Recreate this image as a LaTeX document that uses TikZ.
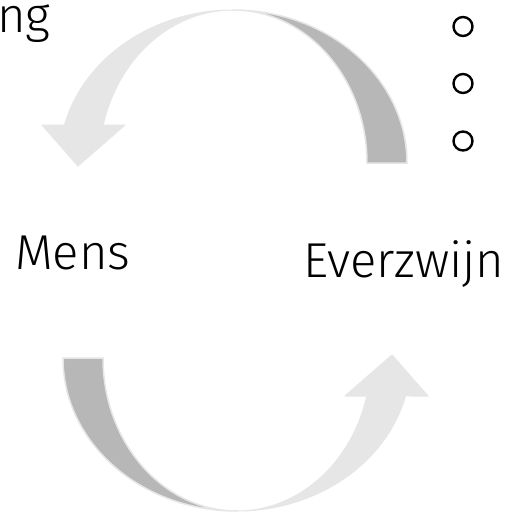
\documentclass[tikz,border=0pt]{standalone}
\usepackage{fontspec}
\setmainfont{Fira Sans Light}
\definecolor{lightg}{RGB}{230,230,230}
\definecolor{darkg}{RGB}{183,183,183}
\begin{document}
\begin{tikzpicture}[x=1pt,y=1pt,
  lightpart/.style={fill=lightg,draw=lightg,line width=1pt,line join=round},
  darkpart/.style={fill=darkg,draw=lightg,line width=1.5pt,line join=miter},
  lbl/.style={inner sep=0pt,anchor=base west,font=\fontsize{49}{55}\selectfont},
  bulletc/.style={circle,draw=black,line width=2.4pt,minimum size=19pt,inner sep=0pt}]
\useasboundingbox (0,0) rectangle (510,-514);
\fill[white] (0,0) rectangle (510,-514);
% top cycle arrow
\begin{scope}
\filldraw[lightpart] (233,-10)
  arc[start angle=90,end angle=165.62,x radius=174pt,y radius=153pt]
  -- (42,-125) -- (78,-166) -- (125,-125) -- (103.2,-125)
  arc[start angle=165.62,end angle=90,x radius=134pt,y radius=153pt] -- cycle;
\filldraw[darkpart] (407,-163)
  arc[start angle=0,end angle=90,x radius=174pt,y radius=153pt]
  arc[start angle=90,end angle=0,x radius=134pt,y radius=153pt] -- cycle;
\end{scope}
% bottom cycle arrow (rotated copy)
\begin{scope}[rotate around={180:(235,-260.5)}]
\filldraw[lightpart] (233,-10)
  arc[start angle=90,end angle=165.62,x radius=174pt,y radius=153pt]
  -- (42,-125) -- (78,-166) -- (125,-125) -- (103.2,-125)
  arc[start angle=165.62,end angle=90,x radius=134pt,y radius=153pt] -- cycle;
\filldraw[darkpart] (407,-163)
  arc[start angle=0,end angle=90,x radius=174pt,y radius=153pt]
  arc[start angle=90,end angle=0,x radius=134pt,y radius=153pt] -- cycle;
\end{scope}
% labels
\node[lbl] (ng) at (-3,-32) {ng};
\node[lbl] (mens) at (15,-269) {Mens};
\node[lbl] (ever) at (303,-277) {Everzwijn};
% bullets
\node[bulletc] (b1) at (463,-26.5) {};
\node[bulletc] (b2) at (463,-83.5) {};
\node[bulletc] (b3) at (463,-141) {};
\end{tikzpicture}
\end{document}
